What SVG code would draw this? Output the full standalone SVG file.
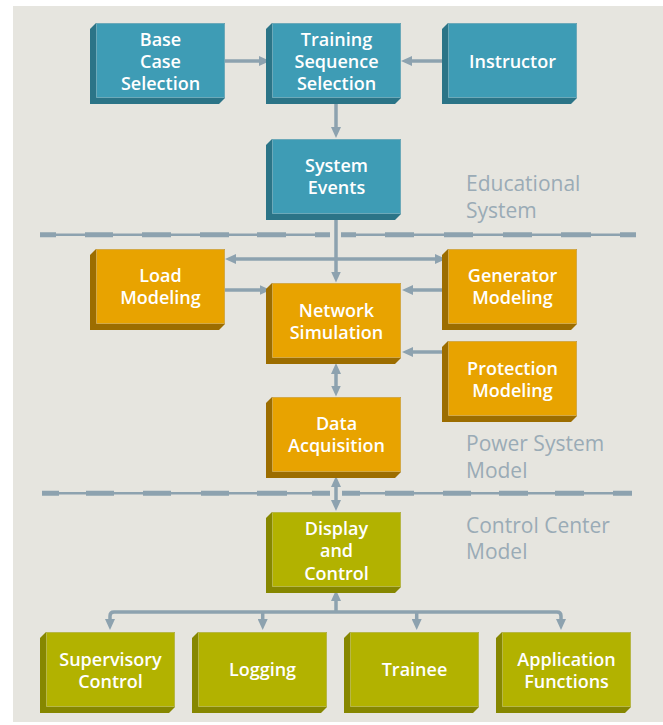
<svg xmlns="http://www.w3.org/2000/svg" xmlns:xlink="http://www.w3.org/1999/xlink" width="663" height="725" viewBox="0 0 663 725">
<style>
.side{stroke:none}
.face{stroke:rgba(255,255,255,0.28);stroke-width:1}
.teal .face{fill:#3E9CB5}.teal .side{fill:#2B7487}
.orange .face{fill:#E8A300}.orange .side{fill:#9C6D00}
.olive .face{fill:#B2B200}.olive .side{fill:#868700}
.lbl{font-family:"Open Sans","Liberation Sans",sans-serif;font-weight:600;font-size:18px;fill:#FFFFFF;text-anchor:middle}
.region{font-family:"Open Sans","Liberation Sans",sans-serif;font-weight:400;font-size:21px;fill:#9AABB6}
.conn{fill:none;stroke:#8DA2AF;stroke-width:3.5}
.thin{fill:none;stroke:#8DA2AF;stroke-width:2.4}
.dash{fill:none;stroke:#8DA2AF;stroke-width:5}
</style>
<defs>
<polygon id="side" points="0,0 129,0 129,75 123,81 -6,81 -6,6"/>
<rect id="face" x="0.5" y="0.5" width="128" height="74"/>
<marker id="ah" markerUnits="userSpaceOnUse" markerWidth="11" markerHeight="10" refX="5" refY="5" orient="auto-start-reverse">
<path d="M0,0 L11,5 L0,10 z" fill="#8DA2AF"/>
</marker>
</defs>
<rect x="0" y="0" width="663" height="725" fill="#FFFFFF"/>
<rect x="13" y="6" width="650" height="716" fill="#E6E5DF"/>

<g id="dividers">
<path class="thin" d="M40,234.7 H330 M341,234.7 H636"/>
<path class="dash" d="M40,234.7 H56 M85,234.7 H113 M142,234.7 H171 M200,234.7 H229 M257,234.7 H286 M315,234.7 H330 M341,234.7 H356 M385,234.7 H414 M444,234.7 H473 M503,234.7 H532 M561,234.7 H591 M620,234.7 H636"/>
<path class="thin" d="M42,493.3 H330 M342,493.3 H632"/>
<path class="dash" d="M42,493.3 H59 M86,493.3 H114 M143,493.3 H171 M201,493.3 H229 M257,493.3 H287 M312,493.3 H330 M342,493.3 H360 M385,493.3 H414 M443,493.3 H471 M499,493.3 H528 M555,493.3 H584 M613,493.3 H632"/>
</g>

<g id="connectors">
<path class="conn" d="M225,61 H264" marker-end="url(#ah)"/>
<path class="conn" d="M448,61 H407" marker-end="url(#ah)"/>
<path class="conn" d="M336,104 V132" marker-end="url(#ah)"/>
<path class="conn" d="M336,220 V276.5" marker-end="url(#ah)"/>
<path class="conn" d="M231,259 H440" marker-start="url(#ah)" marker-end="url(#ah)"/>
<path class="conn" d="M225,290 H264.5" marker-end="url(#ah)"/>
<path class="conn" d="M444,290 H408" marker-end="url(#ah)"/>
<path class="conn" d="M444,352 H408" marker-end="url(#ah)"/>
<path class="conn" d="M336,369 V390.5" marker-start="url(#ah)" marker-end="url(#ah)"/>
<path class="conn" d="M336,482 V505" marker-start="url(#ah)" marker-end="url(#ah)"/>
<path class="conn" d="M336,612 V596" marker-end="url(#ah)"/>
<path class="conn" d="M110,624 V616 Q110,612 114,612 H557 Q561,612 561,616 V624" marker-start="url(#ah)" marker-end="url(#ah)"/>
<path class="conn" d="M262.7,612 V624" marker-end="url(#ah)"/>
<path class="conn" d="M416.7,612 V624" marker-end="url(#ah)"/>
</g>

<g id="base" class="teal" transform="translate(96,23)">
<use xlink:href="#side" class="side"/><use xlink:href="#face" class="face"/>
<text class="lbl" x="64.5" y="22.5">Base</text><text class="lbl" x="64.5" y="44.8">Case</text><text class="lbl" x="64.5" y="67.1">Selection</text>
</g>
<g id="training" class="teal" transform="translate(272,23)">
<use xlink:href="#side" class="side"/><use xlink:href="#face" class="face"/>
<text class="lbl" x="64.5" y="22.5">Training</text><text class="lbl" x="64.5" y="44.8">Sequence</text><text class="lbl" x="64.5" y="67.1">Selection</text>
</g>
<g id="instructor" class="teal" transform="translate(448,23)">
<use xlink:href="#side" class="side"/><use xlink:href="#face" class="face"/>
<text class="lbl" x="64.5" y="44.5">Instructor</text>
</g>
<g id="events" class="teal" transform="translate(272,139)">
<use xlink:href="#side" class="side"/><use xlink:href="#face" class="face"/>
<text class="lbl" x="64.5" y="32.5">System</text><text class="lbl" x="64.5" y="54.8">Events</text>
</g>
<g id="load" class="orange" transform="translate(96,249)">
<use xlink:href="#side" class="side"/><use xlink:href="#face" class="face"/>
<text class="lbl" x="64.5" y="32.5">Load</text><text class="lbl" x="64.5" y="54.8">Modeling</text>
</g>
<g id="generator" class="orange" transform="translate(448,249)">
<use xlink:href="#side" class="side"/><use xlink:href="#face" class="face"/>
<text class="lbl" x="64.5" y="32.5">Generator</text><text class="lbl" x="64.5" y="54.8">Modeling</text>
</g>
<g id="network" class="orange" transform="translate(272,283)">
<use xlink:href="#side" class="side"/><use xlink:href="#face" class="face"/>
<text class="lbl" x="64.5" y="33.5">Network</text><text class="lbl" x="64.5" y="55.8">Simulation</text>
</g>
<g id="protection" class="orange" transform="translate(448,341)">
<use xlink:href="#side" class="side"/><use xlink:href="#face" class="face"/>
<text class="lbl" x="64.5" y="33.5">Protection</text><text class="lbl" x="64.5" y="55.8">Modeling</text>
</g>
<g id="data" class="orange" transform="translate(272,397)">
<use xlink:href="#side" class="side"/><use xlink:href="#face" class="face"/>
<text class="lbl" x="64.5" y="32.5">Data</text><text class="lbl" x="64.5" y="54.8">Acquisition</text>
</g>
<g id="display" class="olive" transform="translate(272,512)">
<use xlink:href="#side" class="side"/><use xlink:href="#face" class="face"/>
<text class="lbl" x="64.5" y="23">Display</text><text class="lbl" x="64.5" y="45.3">and</text><text class="lbl" x="64.5" y="67.6">Control</text>
</g>
<g id="supervisory" class="olive" transform="translate(46,632)">
<use xlink:href="#side" class="side"/><use xlink:href="#face" class="face"/>
<text class="lbl" x="64.5" y="33.5">Supervisory</text><text class="lbl" x="64.5" y="55.8">Control</text>
</g>
<g id="logging" class="olive" transform="translate(198,632)">
<use xlink:href="#side" class="side"/><use xlink:href="#face" class="face"/>
<text class="lbl" x="64.5" y="44">Logging</text>
</g>
<g id="trainee" class="olive" transform="translate(350,632)">
<use xlink:href="#side" class="side"/><use xlink:href="#face" class="face"/>
<text class="lbl" x="64.5" y="44">Trainee</text>
</g>
<g id="application" class="olive" transform="translate(502,632)">
<use xlink:href="#side" class="side"/><use xlink:href="#face" class="face"/>
<text class="lbl" x="64.5" y="33.5">Application</text><text class="lbl" x="64.5" y="55.8">Functions</text>
</g>

<g id="regions">
<text class="region" x="466" y="191">Educational</text>
<text class="region" x="466" y="218">System</text>
<text class="region" x="466" y="451">Power System</text>
<text class="region" x="466" y="477.5">Model</text>
<text class="region" x="466" y="533">Control Center</text>
<text class="region" x="466" y="559">Model</text>
</g>
</svg>
